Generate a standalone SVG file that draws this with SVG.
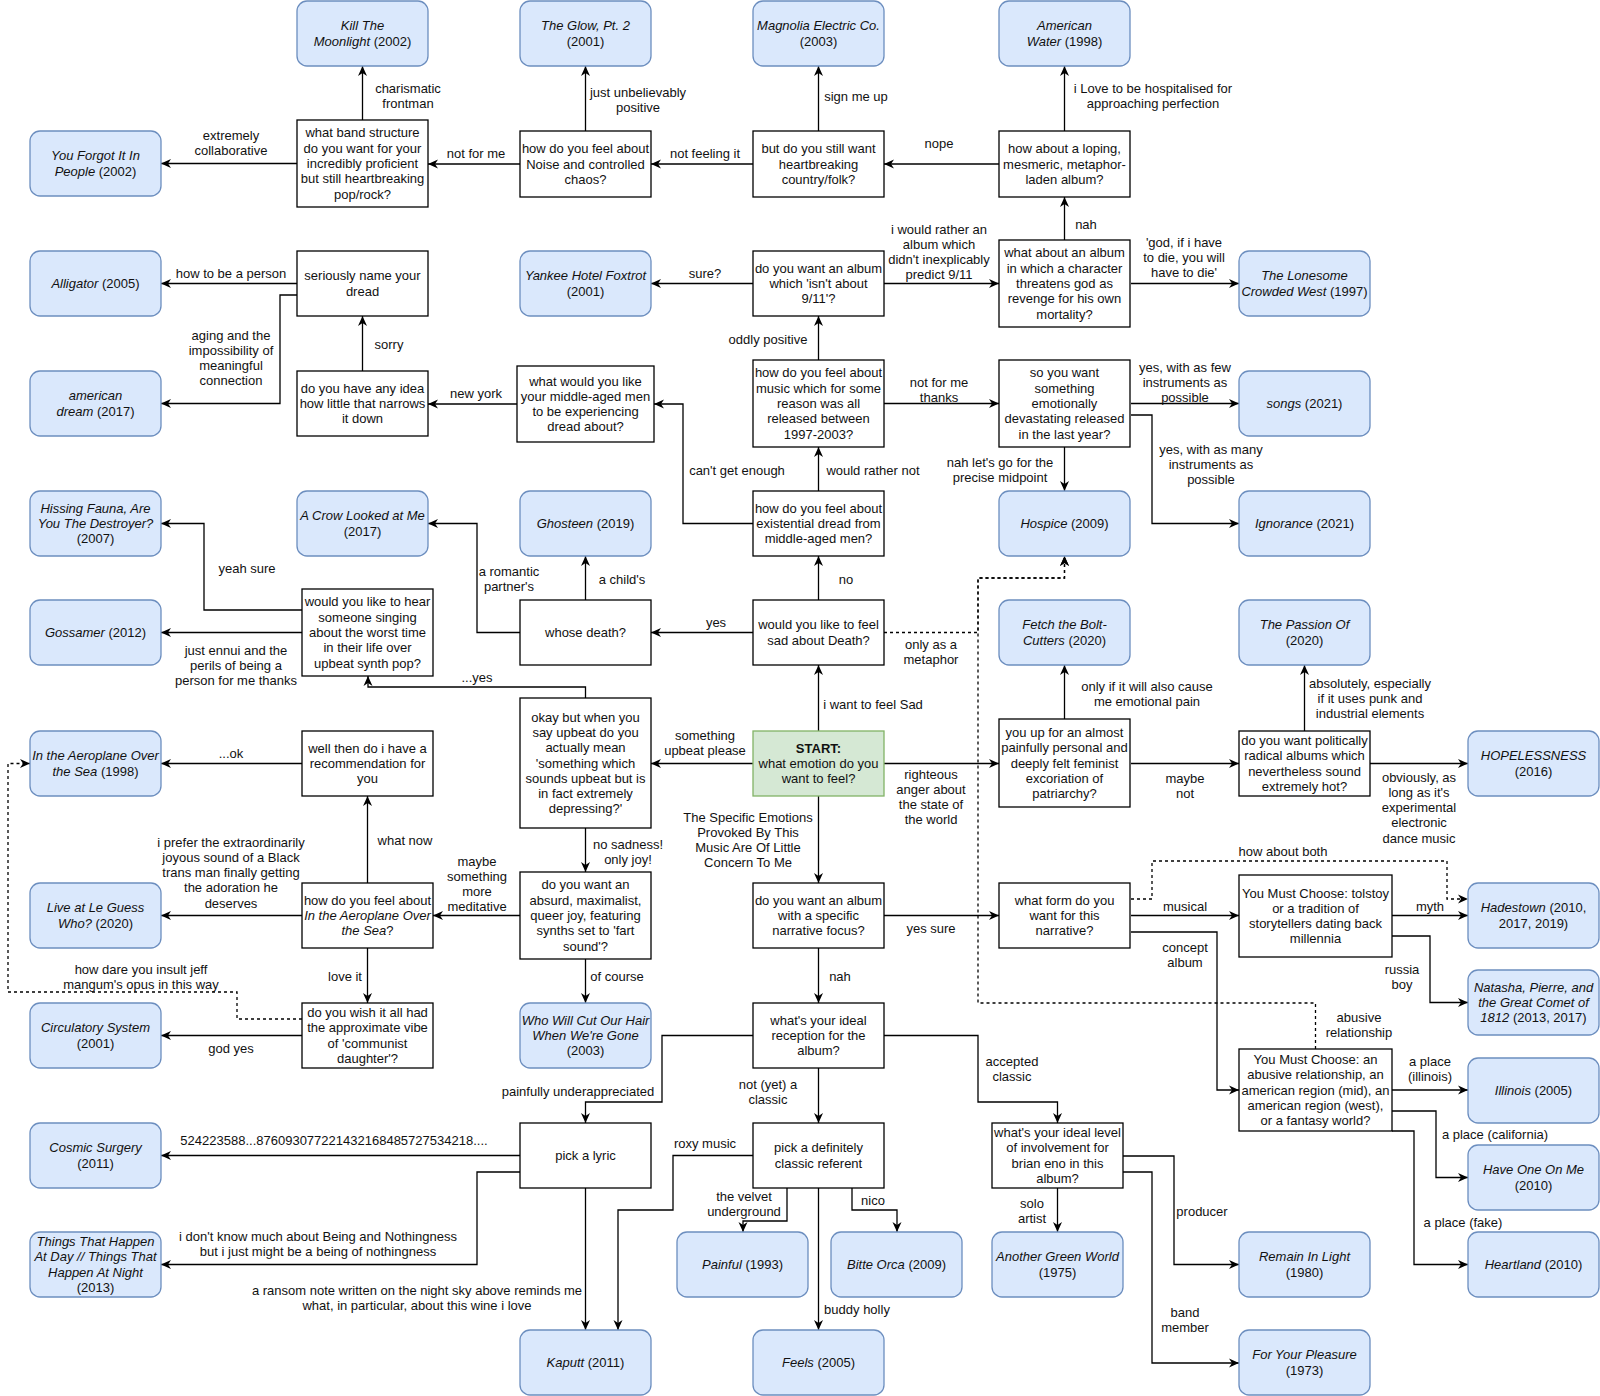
<svg xmlns="http://www.w3.org/2000/svg" width="1600" height="1396" viewBox="0 0 1600 1396">
<defs>
<style>
text{font-family:"Liberation Sans",Arial,Helvetica,sans-serif;font-size:13px;text-anchor:middle;fill:#111}
.i{font-style:italic}
.b{font-weight:bold}
.al rect{fill:#dae8fc;stroke:#6c8ebf;stroke-width:1.3}
.q rect{fill:#fff;stroke:#000;stroke-width:1.3}
.st rect{fill:#d5e8d4;stroke:#82b366;stroke-width:1.3}
#connectors path{fill:none;stroke:#000;stroke-width:1.3;marker-end:url(#arr)}
#connectors path.d{stroke-dasharray:3 3}
</style>
<marker id="arr" viewBox="0 0 10 10" refX="10" refY="5" markerWidth="11" markerHeight="10" markerUnits="userSpaceOnUse" orient="auto"><path d="M0,0.5 L10,5 L0,9.5 L3,5 Z" fill="#000"/></marker>
</defs>
<rect width="1600" height="1396" fill="#fff"/>

<g id="connectors">
<path d="M362.5,120 V66"/>
<path d="M297,163.5 H161"/>
<path d="M520,164 H428"/>
<path d="M585.5,131 V66"/>
<path d="M753,164 H651"/>
<path d="M818.5,131 V66"/>
<path d="M999,164 H884"/>
<path d="M1064.5,131 V66"/>
<path d="M1064.5,240 V197"/>
<path d="M1131,283.5 H1239"/>
<path d="M884,283.5 H999"/>
<path d="M753,283.5 H651"/>
<path d="M818.5,360 V316"/>
<path d="M884,403.5 H999"/>
<path d="M1131,403.5 H1239"/>
<path d="M1131,415 H1152 V523.5 H1239"/>
<path d="M1064.5,447 V491"/>
<path d="M818.5,491 V447"/>
<path d="M753,523.5 H683 V404 H654"/>
<path d="M517,404 H428"/>
<path d="M362.5,371 V316"/>
<path d="M297,283.5 H161"/>
<path d="M297,295 H280 V403.5 H161"/>
<path d="M818.5,600 V556"/>
<path d="M753,632.5 H651"/>
<path d="M585.5,600 V556"/>
<path d="M520,632.5 H477 V523.5 H428"/>
<path class="d" d="M884,632.5 H978 V578 H1064.5 V556"/>
<path d="M818.5,731 V665"/>
<path d="M753,763.5 H651"/>
<path d="M884,763.5 H999"/>
<path d="M818.5,796 V883"/>
<path d="M585.5,698 V687 H368 V676"/>
<path d="M585.5,828 V872"/>
<path d="M302,610 H204 V523.5 H161"/>
<path d="M302,632.5 H161"/>
<path d="M520,915.5 H433"/>
<path d="M585.5,959 V1003"/>
<path d="M367.5,883 V796"/>
<path d="M302,763.5 H161"/>
<path d="M302,915.5 H161"/>
<path d="M367.5,948 V1003"/>
<path d="M302,1035.5 H161"/>
<path class="d" d="M302,1019 H237 V992 H8 V763.5 H30"/>
<path d="M884,915.5 H999"/>
<path d="M818.5,948 V1003"/>
<path d="M1131,915.5 H1239"/>
<path class="d" d="M1131,899 H1152 V861 H1447 V899 H1468"/>
<path d="M1131,932 H1217 V1090 H1239"/>
<path d="M1392,915.5 H1468"/>
<path d="M1392,936 H1430 V1002.5 H1468"/>
<path class="d" d="M1315.5,1049 V1003 H978 V578 H1064.5 V556"/>
<path d="M1392,1090 H1468"/>
<path d="M1392,1111 H1436 V1177.5 H1468"/>
<path d="M1392,1131 H1414 V1264.5 H1468"/>
<path d="M753,1035.5 H662 V1102 H585.5 V1123"/>
<path d="M818.5,1068 V1123"/>
<path d="M884,1035.5 H978 V1102 H1057.5 V1123"/>
<path d="M520,1155.5 H161"/>
<path d="M520,1172 H477 V1264.5 H161"/>
<path d="M585.5,1188 V1330"/>
<path d="M753,1155.5 H673 V1210 H618 V1330"/>
<path d="M787,1188 V1221 H743 V1232"/>
<path d="M852,1188 V1210 H897 V1232"/>
<path d="M818.5,1188 V1330"/>
<path d="M1057.5,1188 V1232"/>
<path d="M1123,1156 H1174 V1264.5 H1239"/>
<path d="M1123,1172 H1152 V1363 H1239"/>
<path d="M1064.5,719 V665"/>
<path d="M1131,763.5 H1239"/>
<path d="M1304.5,731 V665"/>
<path d="M1370,763.5 H1468"/>
</g>

<g id="edge-labels">
<text x="408" y="92.5"><tspan x="408">charismatic</tspan><tspan x="408" dy="15.3">frontman</tspan></text>
<text x="231" y="139.5"><tspan x="231">extremely</tspan><tspan x="231" dy="15.3">collaborative</tspan></text>
<text x="476" y="157.5">not for me</text>
<text x="638" y="96.5"><tspan x="638">just unbelievably</tspan><tspan x="638" dy="15.3">positive</tspan></text>
<text x="705" y="157.5">not feeling it</text>
<text x="856" y="100.5">sign me up</text>
<text x="939" y="147.5">nope</text>
<text x="1153" y="92.5"><tspan x="1153">i Love to be hospitalised for</tspan><tspan x="1153" dy="15.3">approaching perfection</tspan></text>
<text x="1086" y="228.5">nah</text>
<text x="1184" y="246.5"><tspan x="1184">'god, if i have</tspan><tspan x="1184" dy="15.3">to die, you will</tspan><tspan x="1184" dy="15.3">have to die'</tspan></text>
<text x="939" y="233.5"><tspan x="939">i would rather an</tspan><tspan x="939" dy="15.3">album which</tspan><tspan x="939" dy="15.3">didn't inexplicably</tspan><tspan x="939" dy="15.3">predict 9/11</tspan></text>
<text x="705" y="277.5">sure?</text>
<text x="768" y="343.5">oddly positive</text>
<text x="939" y="386.5"><tspan x="939">not for me</tspan><tspan x="939" dy="15.3">thanks</tspan></text>
<text x="1185" y="371.5"><tspan x="1185">yes, with as few</tspan><tspan x="1185" dy="15.3">instruments as</tspan><tspan x="1185" dy="15.3">possible</tspan></text>
<text x="1211" y="453.5"><tspan x="1211">yes, with as many</tspan><tspan x="1211" dy="15.3">instruments as</tspan><tspan x="1211" dy="15.3">possible</tspan></text>
<text x="1000" y="466.5"><tspan x="1000">nah let's go for the</tspan><tspan x="1000" dy="15.3">precise midpoint</tspan></text>
<text x="873" y="474.5">would rather not</text>
<text x="737" y="474.5">can't get enough</text>
<text x="476" y="397.5">new york</text>
<text x="389" y="348.5">sorry</text>
<text x="231" y="277.5">how to be a person</text>
<text x="231" y="339.5"><tspan x="231">aging and the</tspan><tspan x="231" dy="15.3">impossibility of</tspan><tspan x="231" dy="15.3">meaningful</tspan><tspan x="231" dy="15.3">connection</tspan></text>
<text x="846" y="583.5">no</text>
<text x="716" y="626.5">yes</text>
<text x="622" y="583.5">a child's</text>
<text x="509" y="575.5"><tspan x="509">a romantic</tspan><tspan x="509" dy="15.3">partner's</tspan></text>
<text x="931" y="648.5"><tspan x="931">only as a</tspan><tspan x="931" dy="15.3">metaphor</tspan></text>
<text x="873" y="708.5">i want to feel Sad</text>
<text x="705" y="739.5"><tspan x="705">something</tspan><tspan x="705" dy="15.3">upbeat please</tspan></text>
<text x="931" y="778.5"><tspan x="931">righteous</tspan><tspan x="931" dy="15.3">anger about</tspan><tspan x="931" dy="15.3">the state of</tspan><tspan x="931" dy="15.3">the world</tspan></text>
<text x="748" y="821.5"><tspan x="748">The Specific Emotions</tspan><tspan x="748" dy="15.3">Provoked By This</tspan><tspan x="748" dy="15.3">Music Are Of Little</tspan><tspan x="748" dy="15.3">Concern To Me</tspan></text>
<text x="477" y="681.5">...yes</text>
<text x="628" y="848.5"><tspan x="628">no sadness!</tspan><tspan x="628" dy="15.3">only joy!</tspan></text>
<text x="247" y="572.5">yeah sure</text>
<text x="236" y="654.5"><tspan x="236">just ennui and the</tspan><tspan x="236" dy="15.3">perils of being a</tspan><tspan x="236" dy="15.3">person for me thanks</tspan></text>
<text x="477" y="865.5"><tspan x="477">maybe</tspan><tspan x="477" dy="15.3">something</tspan><tspan x="477" dy="15.3">more</tspan><tspan x="477" dy="15.3">meditative</tspan></text>
<text x="617" y="980.5">of course</text>
<text x="405" y="844.5">what now</text>
<text x="231" y="757.5">...ok</text>
<text x="231" y="846.5"><tspan x="231">i prefer the extraordinarily</tspan><tspan x="231" dy="15.3">joyous sound of a Black</tspan><tspan x="231" dy="15.3">trans man finally getting</tspan><tspan x="231" dy="15.3">the adoration he</tspan><tspan x="231" dy="15.3">deserves</tspan></text>
<text x="345" y="980.5">love it</text>
<text x="231" y="1052.5">god yes</text>
<text x="141" y="973.5"><tspan x="141">how dare you insult jeff</tspan><tspan x="141" dy="15.3">mangum's opus in this way</tspan></text>
<text x="931" y="932.5">yes sure</text>
<text x="840" y="980.5">nah</text>
<text x="1185" y="910.5">musical</text>
<text x="1283" y="855.5">how about both</text>
<text x="1185" y="951.5"><tspan x="1185">concept</tspan><tspan x="1185" dy="15.3">album</tspan></text>
<text x="1430" y="910.5">myth</text>
<text x="1402" y="973.5"><tspan x="1402">russia</tspan><tspan x="1402" dy="15.3">boy</tspan></text>
<text x="1359" y="1021.5"><tspan x="1359">abusive</tspan><tspan x="1359" dy="15.3">relationship</tspan></text>
<text x="1430" y="1065.5"><tspan x="1430">a place</tspan><tspan x="1430" dy="15.3">(illinois)</tspan></text>
<text x="1495" y="1138.5">a place (california)</text>
<text x="1463" y="1226.5">a place (fake)</text>
<text x="578" y="1095.5">painfully underappreciated</text>
<text x="768" y="1088.5"><tspan x="768">not (yet) a</tspan><tspan x="768" dy="15.3">classic</tspan></text>
<text x="1012" y="1065.5"><tspan x="1012">accepted</tspan><tspan x="1012" dy="15.3">classic</tspan></text>
<text x="334" y="1144.5">524223588...876093077221432168485727534218....</text>
<text x="318" y="1240.5"><tspan x="318">i don't know much about Being and Nothingness</tspan><tspan x="318" dy="15.3">but i just might be a being of nothingness</tspan></text>
<text x="417" y="1294.5"><tspan x="417">a ransom note written on the night sky above reminds me</tspan><tspan x="417" dy="15.3">what, in particular, about this wine i love</tspan></text>
<text x="705" y="1147.5">roxy music</text>
<text x="744" y="1200.5"><tspan x="744">the velvet</tspan><tspan x="744" dy="15.3">underground</tspan></text>
<text x="873" y="1204.5">nico</text>
<text x="857" y="1313.5">buddy holly</text>
<text x="1032" y="1207.5"><tspan x="1032">solo</tspan><tspan x="1032" dy="15.3">artist</tspan></text>
<text x="1202" y="1215.5">producer</text>
<text x="1185" y="1316.5"><tspan x="1185">band</tspan><tspan x="1185" dy="15.3">member</tspan></text>
<text x="1147" y="690.5"><tspan x="1147">only if it will also cause</tspan><tspan x="1147" dy="15.3">me emotional pain</tspan></text>
<text x="1185" y="782.5"><tspan x="1185">maybe</tspan><tspan x="1185" dy="15.3">not</tspan></text>
<text x="1370" y="687.5"><tspan x="1370">absolutely, especially</tspan><tspan x="1370" dy="15.3">if it uses punk and</tspan><tspan x="1370" dy="15.3">industrial elements</tspan></text>
<text x="1419" y="781.5"><tspan x="1419">obviously, as</tspan><tspan x="1419" dy="15.3">long as it's</tspan><tspan x="1419" dy="15.3">experimental</tspan><tspan x="1419" dy="15.3">electronic</tspan><tspan x="1419" dy="15.3">dance music</tspan></text>
</g>

<!-- album nodes -->
<g id="kill" class="al"><rect x="297" y="1" width="131" height="65" rx="10"/><text x="362.5" y="30.3"><tspan x="362.5" class="i">Kill The</tspan><tspan x="362.5" dy="15.3"><tspan class="i">Moonlight</tspan> (2002)</tspan></text></g>
<g id="glow" class="al"><rect x="520" y="1" width="131" height="65" rx="10"/><text x="585.5" y="30.3"><tspan x="585.5" class="i">The Glow, Pt. 2</tspan><tspan x="585.5" dy="15.3">(2001)</tspan></text></g>
<g id="magnolia" class="al"><rect x="753" y="1" width="131" height="65" rx="10"/><text x="818.5" y="30.3"><tspan x="818.5" class="i">Magnolia Electric Co.</tspan><tspan x="818.5" dy="15.3">(2003)</tspan></text></g>
<g id="american-water" class="al"><rect x="999" y="1" width="131" height="65" rx="10"/><text x="1064.5" y="30.3"><tspan x="1064.5" class="i">American</tspan><tspan x="1064.5" dy="15.3"><tspan class="i">Water</tspan> (1998)</tspan></text></g>
<g id="you-forgot" class="al"><rect x="30" y="131" width="131" height="65" rx="10"/><text x="95.5" y="160.3"><tspan x="95.5" class="i">You Forgot It In</tspan><tspan x="95.5" dy="15.3"><tspan class="i">People</tspan> (2002)</tspan></text></g>
<g id="alligator" class="al"><rect x="30" y="251" width="131" height="65" rx="10"/><text x="95.5" y="288"><tspan class="i">Alligator</tspan> (2005)</text></g>
<g id="yankee" class="al"><rect x="520" y="251" width="131" height="65" rx="10"/><text x="585.5" y="280.3"><tspan x="585.5" class="i">Yankee Hotel Foxtrot</tspan><tspan x="585.5" dy="15.3">(2001)</tspan></text></g>
<g id="lonesome" class="al"><rect x="1239" y="251" width="131" height="65" rx="10"/><text x="1304.5" y="280.3"><tspan x="1304.5" class="i">The Lonesome</tspan><tspan x="1304.5" dy="15.3"><tspan class="i">Crowded West</tspan> (1997)</tspan></text></g>
<g id="american-dream" class="al"><rect x="30" y="371" width="131" height="65" rx="10"/><text x="95.5" y="400.3"><tspan x="95.5" class="i">american</tspan><tspan x="95.5" dy="15.3"><tspan class="i">dream</tspan> (2017)</tspan></text></g>
<g id="songs" class="al"><rect x="1239" y="371" width="131" height="65" rx="10"/><text x="1304.5" y="408"><tspan class="i">songs</tspan> (2021)</text></g>
<g id="hissing" class="al"><rect x="30" y="491" width="131" height="65" rx="10"/><text x="95.5" y="512.7"><tspan x="95.5" class="i">Hissing Fauna, Are</tspan><tspan x="95.5" dy="15.3" class="i">You The Destroyer?</tspan><tspan x="95.5" dy="15.3">(2007)</tspan></text></g>
<g id="crow" class="al"><rect x="297" y="491" width="131" height="65" rx="10"/><text x="362.5" y="520.3"><tspan x="362.5" class="i">A Crow Looked at Me</tspan><tspan x="362.5" dy="15.3">(2017)</tspan></text></g>
<g id="ghosteen" class="al"><rect x="520" y="491" width="131" height="65" rx="10"/><text x="585.5" y="528"><tspan class="i">Ghosteen</tspan> (2019)</text></g>
<g id="hospice" class="al"><rect x="999" y="491" width="131" height="65" rx="10"/><text x="1064.5" y="528"><tspan class="i">Hospice</tspan> (2009)</text></g>
<g id="ignorance" class="al"><rect x="1239" y="491" width="131" height="65" rx="10"/><text x="1304.5" y="528"><tspan class="i">Ignorance</tspan> (2021)</text></g>
<g id="gossamer" class="al"><rect x="30" y="600" width="131" height="65" rx="10"/><text x="95.5" y="637"><tspan class="i">Gossamer</tspan> (2012)</text></g>
<g id="fetch" class="al"><rect x="999" y="600" width="131" height="65" rx="10"/><text x="1064.5" y="629.3"><tspan x="1064.5" class="i">Fetch the Bolt-</tspan><tspan x="1064.5" dy="15.3"><tspan class="i">Cutters</tspan> (2020)</tspan></text></g>
<g id="passion" class="al"><rect x="1239" y="600" width="131" height="65" rx="10"/><text x="1304.5" y="629.3"><tspan x="1304.5" class="i">The Passion Of</tspan><tspan x="1304.5" dy="15.3">(2020)</tspan></text></g>
<g id="aeroplane" class="al"><rect x="30" y="731" width="131" height="65" rx="10"/><text x="95.5" y="760.3"><tspan x="95.5" class="i">In the Aeroplane Over</tspan><tspan x="95.5" dy="15.3"><tspan class="i">the Sea</tspan> (1998)</tspan></text></g>
<g id="hopelessness" class="al"><rect x="1468" y="731" width="131" height="65" rx="10"/><text x="1533.5" y="760.3"><tspan x="1533.5" class="i">HOPELESSNESS</tspan><tspan x="1533.5" dy="15.3">(2016)</tspan></text></g>
<g id="live" class="al"><rect x="30" y="883" width="131" height="65" rx="10"/><text x="95.5" y="912.3"><tspan x="95.5" class="i">Live at Le Guess</tspan><tspan x="95.5" dy="15.3"><tspan class="i">Who?</tspan> (2020)</tspan></text></g>
<g id="hadestown" class="al"><rect x="1468" y="883" width="131" height="65" rx="10"/><text x="1533.5" y="912.3"><tspan x="1533.5"><tspan class="i">Hadestown</tspan> (2010,</tspan><tspan x="1533.5" dy="15.3">2017, 2019)</tspan></text></g>
<g id="circulatory" class="al"><rect x="30" y="1003" width="131" height="65" rx="10"/><text x="95.5" y="1032.3"><tspan x="95.5" class="i">Circulatory System</tspan><tspan x="95.5" dy="15.3">(2001)</tspan></text></g>
<g id="whowill" class="al"><rect x="520" y="1003" width="131" height="65" rx="10"/><text x="585.5" y="1024.7"><tspan x="585.5" class="i">Who Will Cut Our Hair</tspan><tspan x="585.5" dy="15.3" class="i">When We're Gone</tspan><tspan x="585.5" dy="15.3">(2003)</tspan></text></g>
<g id="natasha" class="al"><rect x="1468" y="970" width="131" height="65" rx="10"/><text x="1533.5" y="991.7"><tspan x="1533.5" class="i">Natasha, Pierre, and</tspan><tspan x="1533.5" dy="15.3" class="i">the Great Comet of</tspan><tspan x="1533.5" dy="15.3"><tspan class="i">1812</tspan> (2013, 2017)</tspan></text></g>
<g id="illinois" class="al"><rect x="1468" y="1058" width="131" height="65" rx="10"/><text x="1533.5" y="1095"><tspan class="i">Illinois</tspan> (2005)</text></g>
<g id="cosmic" class="al"><rect x="30" y="1123" width="131" height="65" rx="10"/><text x="95.5" y="1152.3"><tspan x="95.5" class="i">Cosmic Surgery</tspan><tspan x="95.5" dy="15.3">(2011)</tspan></text></g>
<g id="haveone" class="al"><rect x="1468" y="1145" width="131" height="65" rx="10"/><text x="1533.5" y="1174.3"><tspan x="1533.5" class="i">Have One On Me</tspan><tspan x="1533.5" dy="15.3">(2010)</tspan></text></g>
<g id="things" class="al"><rect x="30" y="1232" width="131" height="65" rx="10"/><text x="95.5" y="1246"><tspan x="95.5" class="i">Things That Happen</tspan><tspan x="95.5" dy="15.3" class="i">At Day // Things That</tspan><tspan x="95.5" dy="15.3" class="i">Happen At Night</tspan><tspan x="95.5" dy="15.3">(2013)</tspan></text></g>
<g id="painful" class="al"><rect x="677" y="1232" width="131" height="65" rx="10"/><text x="742.5" y="1269"><tspan class="i">Painful</tspan> (1993)</text></g>
<g id="bitte" class="al"><rect x="831" y="1232" width="131" height="65" rx="10"/><text x="896.5" y="1269"><tspan class="i">Bitte Orca</tspan> (2009)</text></g>
<g id="agw" class="al"><rect x="992" y="1232" width="131" height="65" rx="10"/><text x="1057.5" y="1261.3"><tspan x="1057.5" class="i">Another Green World</tspan><tspan x="1057.5" dy="15.3">(1975)</tspan></text></g>
<g id="remain" class="al"><rect x="1239" y="1232" width="131" height="65" rx="10"/><text x="1304.5" y="1261.3"><tspan x="1304.5" class="i">Remain In Light</tspan><tspan x="1304.5" dy="15.3">(1980)</tspan></text></g>
<g id="heartland" class="al"><rect x="1468" y="1232" width="131" height="65" rx="10"/><text x="1533.5" y="1269"><tspan class="i">Heartland</tspan> (2010)</text></g>
<g id="kaputt" class="al"><rect x="520" y="1330" width="131" height="65" rx="10"/><text x="585.5" y="1367"><tspan class="i">Kaputt</tspan> (2011)</text></g>
<g id="feels" class="al"><rect x="753" y="1330" width="131" height="65" rx="10"/><text x="818.5" y="1367"><tspan class="i">Feels</tspan> (2005)</text></g>
<g id="fyp" class="al"><rect x="1239" y="1330" width="131" height="65" rx="10"/><text x="1304.5" y="1359.3"><tspan x="1304.5" class="i">For Your Pleasure</tspan><tspan x="1304.5" dy="15.3">(1973)</tspan></text></g>

<!-- question nodes -->
<g id="q-band" class="q"><rect x="297" y="120" width="131" height="87"/><text x="362.5" y="137.4"><tspan x="362.5">what band structure</tspan><tspan x="362.5" dy="15.3">do you want for your</tspan><tspan x="362.5" dy="15.3">incredibly proficient</tspan><tspan x="362.5" dy="15.3">but still heartbreaking</tspan><tspan x="362.5" dy="15.3">pop/rock?</tspan></text></g>
<g id="q-noise" class="q"><rect x="520" y="131" width="131" height="66"/><text x="585.5" y="153.2"><tspan x="585.5">how do you feel about</tspan><tspan x="585.5" dy="15.3">Noise and controlled</tspan><tspan x="585.5" dy="15.3">chaos?</tspan></text></g>
<g id="q-country" class="q"><rect x="753" y="131" width="131" height="66"/><text x="818.5" y="153.2"><tspan x="818.5">but do you still want</tspan><tspan x="818.5" dy="15.3">heartbreaking</tspan><tspan x="818.5" dy="15.3">country/folk?</tspan></text></g>
<g id="q-loping" class="q"><rect x="999" y="131" width="131" height="66"/><text x="1064.5" y="153.2"><tspan x="1064.5">how about a loping,</tspan><tspan x="1064.5" dy="15.3">mesmeric, metaphor-</tspan><tspan x="1064.5" dy="15.3">laden album?</tspan></text></g>
<g id="q-dread" class="q"><rect x="297" y="251" width="131" height="65"/><text x="362.5" y="280.3"><tspan x="362.5">seriously name your</tspan><tspan x="362.5" dy="15.3">dread</tspan></text></g>
<g id="q-911" class="q"><rect x="753" y="251" width="131" height="65"/><text x="818.5" y="272.7"><tspan x="818.5">do you want an album</tspan><tspan x="818.5" dy="15.3">which 'isn't about</tspan><tspan x="818.5" dy="15.3">9/11'?</tspan></text></g>
<g id="q-character" class="q"><rect x="999" y="240" width="131" height="87"/><text x="1064.5" y="257.4"><tspan x="1064.5">what about an album</tspan><tspan x="1064.5" dy="15.3">in which a character</tspan><tspan x="1064.5" dy="15.3">threatens god as</tspan><tspan x="1064.5" dy="15.3">revenge for his own</tspan><tspan x="1064.5" dy="15.3">mortality?</tspan></text></g>
<g id="q-idea" class="q"><rect x="297" y="371" width="131" height="65"/><text x="362.5" y="392.7"><tspan x="362.5">do you have any idea</tspan><tspan x="362.5" dy="15.3">how little that narrows</tspan><tspan x="362.5" dy="15.3">it down</tspan></text></g>
<g id="q-middle" class="q"><rect x="517" y="366" width="137" height="76"/><text x="585.5" y="385.5"><tspan x="585.5">what would you like</tspan><tspan x="585.5" dy="15.3">your middle-aged men</tspan><tspan x="585.5" dy="15.3">to be experiencing</tspan><tspan x="585.5" dy="15.3">dread about?</tspan></text></g>
<g id="q-1997" class="q"><rect x="753" y="360" width="131" height="87"/><text x="818.5" y="377.4"><tspan x="818.5">how do you feel about</tspan><tspan x="818.5" dy="15.3">music which for some</tspan><tspan x="818.5" dy="15.3">reason was all</tspan><tspan x="818.5" dy="15.3">released between</tspan><tspan x="818.5" dy="15.3">1997-2003?</tspan></text></g>
<g id="q-sowant" class="q"><rect x="999" y="360" width="131" height="87"/><text x="1064.5" y="377.4"><tspan x="1064.5">so you want</tspan><tspan x="1064.5" dy="15.3">something</tspan><tspan x="1064.5" dy="15.3">emotionally</tspan><tspan x="1064.5" dy="15.3">devastating released</tspan><tspan x="1064.5" dy="15.3">in the last year?</tspan></text></g>
<g id="q-exist" class="q"><rect x="753" y="491" width="131" height="65"/><text x="818.5" y="512.7"><tspan x="818.5">how do you feel about</tspan><tspan x="818.5" dy="15.3">existential dread from</tspan><tspan x="818.5" dy="15.3">middle-aged men?</tspan></text></g>
<g id="q-hear" class="q"><rect x="302" y="589" width="131" height="87"/><text x="367.5" y="606.4"><tspan x="367.5">would you like to hear</tspan><tspan x="367.5" dy="15.3">someone singing</tspan><tspan x="367.5" dy="15.3">about the worst time</tspan><tspan x="367.5" dy="15.3">in their life over</tspan><tspan x="367.5" dy="15.3">upbeat synth pop?</tspan></text></g>
<g id="q-whose" class="q"><rect x="520" y="600" width="131" height="65"/><text x="585.5" y="637">whose death?</text></g>
<g id="q-sad" class="q"><rect x="753" y="600" width="131" height="65"/><text x="818.5" y="629.3"><tspan x="818.5">would you like to feel</tspan><tspan x="818.5" dy="15.3">sad about Death?</tspan></text></g>
<g id="q-wellthen" class="q"><rect x="302" y="731" width="131" height="65"/><text x="367.5" y="752.7"><tspan x="367.5">well then do i have a</tspan><tspan x="367.5" dy="15.3">recommendation for</tspan><tspan x="367.5" dy="15.3">you</tspan></text></g>
<g id="q-okay" class="q"><rect x="520" y="698" width="131" height="130"/><text x="585.5" y="721.6"><tspan x="585.5">okay but when you</tspan><tspan x="585.5" dy="15.3">say upbeat do you</tspan><tspan x="585.5" dy="15.3">actually mean</tspan><tspan x="585.5" dy="15.3">'something which</tspan><tspan x="585.5" dy="15.3">sounds upbeat but is</tspan><tspan x="585.5" dy="15.3">in fact extremely</tspan><tspan x="585.5" dy="15.3">depressing?'</tspan></text></g>
<g id="start" class="st"><rect x="753" y="731" width="131" height="65"/><text x="818.5" y="752.7"><tspan x="818.5" class="b">START:</tspan><tspan x="818.5" dy="15.3">what emotion do you</tspan><tspan x="818.5" dy="15.3">want to feel?</tspan></text></g>
<g id="q-youup" class="q"><rect x="999" y="719" width="131" height="88"/><text x="1064.5" y="736.9"><tspan x="1064.5">you up for an almost</tspan><tspan x="1064.5" dy="15.3">painfully personal and</tspan><tspan x="1064.5" dy="15.3">deeply felt feminist</tspan><tspan x="1064.5" dy="15.3">excoriation of</tspan><tspan x="1064.5" dy="15.3">patriarchy?</tspan></text></g>
<g id="q-political" class="q"><rect x="1239" y="731" width="131" height="65"/><text x="1304.5" y="745"><tspan x="1304.5">do you want politically</tspan><tspan x="1304.5" dy="15.3">radical albums which</tspan><tspan x="1304.5" dy="15.3">nevertheless sound</tspan><tspan x="1304.5" dy="15.3">extremely hot?</tspan></text></g>
<g id="q-aeroplane" class="q"><rect x="302" y="883" width="131" height="65"/><text x="367.5" y="904.7"><tspan x="367.5">how do you feel about</tspan><tspan x="367.5" dy="15.3" class="i">In the Aeroplane Over</tspan><tspan x="367.5" dy="15.3"><tspan class="i">the Sea</tspan>?</tspan></text></g>
<g id="q-absurd" class="q"><rect x="520" y="872" width="131" height="87"/><text x="585.5" y="889.4"><tspan x="585.5">do you want an</tspan><tspan x="585.5" dy="15.3">absurd, maximalist,</tspan><tspan x="585.5" dy="15.3">queer joy, featuring</tspan><tspan x="585.5" dy="15.3">synths set to 'fart</tspan><tspan x="585.5" dy="15.3">sound'?</tspan></text></g>
<g id="q-narrative" class="q"><rect x="753" y="883" width="131" height="65"/><text x="818.5" y="904.7"><tspan x="818.5">do you want an album</tspan><tspan x="818.5" dy="15.3">with a specific</tspan><tspan x="818.5" dy="15.3">narrative focus?</tspan></text></g>
<g id="q-form" class="q"><rect x="999" y="883" width="131" height="65"/><text x="1064.5" y="904.7"><tspan x="1064.5">what form do you</tspan><tspan x="1064.5" dy="15.3">want for this</tspan><tspan x="1064.5" dy="15.3">narrative?</tspan></text></g>
<g id="q-tolstoy" class="q"><rect x="1239" y="875" width="153" height="82"/><text x="1315.5" y="897.5"><tspan x="1315.5">You Must Choose: tolstoy</tspan><tspan x="1315.5" dy="15.3">or a tradition of</tspan><tspan x="1315.5" dy="15.3">storytellers dating back</tspan><tspan x="1315.5" dy="15.3">millennia</tspan></text></g>
<g id="q-wish" class="q"><rect x="302" y="1003" width="131" height="65"/><text x="367.5" y="1017"><tspan x="367.5">do you wish it all had</tspan><tspan x="367.5" dy="15.3">the approximate vibe</tspan><tspan x="367.5" dy="15.3">of 'communist</tspan><tspan x="367.5" dy="15.3">daughter'?</tspan></text></g>
<g id="q-reception" class="q"><rect x="753" y="1003" width="131" height="65"/><text x="818.5" y="1024.7"><tspan x="818.5">what's your ideal</tspan><tspan x="818.5" dy="15.3">reception for the</tspan><tspan x="818.5" dy="15.3">album?</tspan></text></g>
<g id="q-abusive" class="q"><rect x="1239" y="1049" width="153" height="82"/><text x="1315.5" y="1063.9"><tspan x="1315.5">You Must Choose: an</tspan><tspan x="1315.5" dy="15.3">abusive relationship, an</tspan><tspan x="1315.5" dy="15.3">american region (mid), an</tspan><tspan x="1315.5" dy="15.3">american region (west),</tspan><tspan x="1315.5" dy="15.3">or a fantasy world?</tspan></text></g>
<g id="q-lyric" class="q"><rect x="520" y="1123" width="131" height="65"/><text x="585.5" y="1160">pick a lyric</text></g>
<g id="q-classic" class="q"><rect x="753" y="1123" width="131" height="65"/><text x="818.5" y="1152.3"><tspan x="818.5">pick a definitely</tspan><tspan x="818.5" dy="15.3">classic referent</tspan></text></g>
<g id="q-eno" class="q"><rect x="992" y="1123" width="131" height="65"/><text x="1057.5" y="1137"><tspan x="1057.5">what's your ideal level</tspan><tspan x="1057.5" dy="15.3">of involvement for</tspan><tspan x="1057.5" dy="15.3">brian eno in this</tspan><tspan x="1057.5" dy="15.3">album?</tspan></text></g>
</svg>
